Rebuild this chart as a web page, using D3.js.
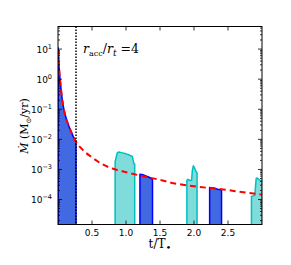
<!DOCTYPE html>
<html><head><meta charset="utf-8">
<script src="https://cdn.jsdelivr.net/npm/d3@7"></script>
<style>body{margin:0;background:#fff}svg{display:block}</style>
</head><body>
<svg id="c" width="291" height="265"></svg>
<script>
// ---- data ----
const xTicks = [0.5, 1.0, 1.5, 2.0, 2.5];
const xTickLabels = ["0.5", "1.0", "1.5", "2.0", "2.5"];
const yTickExps = [-4, -3, -2, -1, 0, 1];

// red dashed reference curve
const fitT = [0.005, 0.01, 0.02, 0.03, 0.05, 0.063, 0.09, 0.127, 0.17, 0.225, 0.265, 0.35, 0.5, 0.65, 0.8, 1.0, 1.2, 1.5, 1.7, 2.0, 2.4, 2.7, 3.0];
const fitMdot = [9.5, 3.98, 1.78, 1.0, 0.355, 0.204, 0.089, 0.0437, 0.024, 0.0123, 0.0083, 0.0048, 0.0025, 0.0015, 0.00107, 8.1e-4, 6.3e-4, 4.5e-4, 3.5e-4, 2.75e-4, 2.2e-4, 1.78e-4, 1.45e-4];

// blue episodes
const blue1T = [0.002, 0.005, 0.01, 0.02, 0.03, 0.05, 0.063, 0.09, 0.127, 0.17, 0.225, 0.265];
const blue1Mdot = [11, 9.5, 3.98, 1.78, 1.0, 0.355, 0.204, 0.089, 0.0437, 0.024, 0.0123, 0.0083];
const blue2T = [1.205, 1.23, 1.26, 1.3, 1.34, 1.37, 1.39];
const blue2Mdot = [6.9e-4, 6.8e-4, 6.5e-4, 6.0e-4, 5.5e-4, 5.0e-4, 4.7e-4];
const blue3T = [2.23, 2.26, 2.3, 2.35, 2.39, 2.405];
const blue3Mdot = [2.5e-4, 2.45e-4, 2.35e-4, 2.2e-4, 2.1e-4, 2.05e-4];

// cyan episodes
const cyan1T = [0.84, 0.855, 0.87, 0.89, 0.95, 1.0, 1.05, 1.09, 1.10, 1.115, 1.128];
const cyan1Mdot = [1.8e-3, 2.5e-3, 3.5e-3, 3.8e-3, 3.55e-3, 3.3e-3, 3.0e-3, 2.75e-3, 2.3e-3, 1.6e-3, 1.5e-3];
const cyan2T = [1.895, 1.91, 1.94, 1.965, 1.975, 1.99, 2.005, 2.025, 2.045];
const cyan2Mdot = [4.2e-4, 4.7e-4, 4.3e-4, 4.4e-4, 8.9e-4, 1.32e-3, 1.17e-3, 8.9e-4, 7.6e-4];
const cyan3T = [2.845, 2.87, 2.895, 2.905, 2.915, 2.93, 2.95, 2.97, 3.0];
const cyan3Mdot = [1.26e-4, 1.32e-4, 1.38e-4, 2.8e-4, 5.1e-4, 5.2e-4, 4.7e-4, 4.3e-4, 4.3e-4];

const tTrunc = 0.265;

// ---- layout ----
const svg = d3.select("#c");
const L = 58, R = 262, T = 26.5, B = 224.5;
const x = d3.scaleLinear().domain([0, 3]).range([L, R]);
const y = d3.scaleLog().domain([Math.pow(10, -4.83), Math.pow(10, 1.75)]).range([B, T]);

svg.append("defs").append("clipPath").attr("id", "pc")
  .append("rect").attr("x", L).attr("y", T).attr("width", R - L).attr("height", B - T);
const g = svg.append("g").attr("clip-path", "url(#pc)");

const area = d3.area().x(d => x(d[0])).y0(B + 2).y1(d => y(d[1]));
function episode(ts, vs, fill, stroke) {
  const pts = ts.map((t, i) => [t, vs[i]]);
  g.append("path").attr("d", area(pts)).attr("fill", fill)
    .attr("stroke", stroke).attr("stroke-width", 1.5).attr("stroke-linejoin", "round");
}
episode(blue1T, blue1Mdot, "#4169E1", "#0000FF");
episode(blue2T, blue2Mdot, "#4169E1", "#0000FF");
episode(blue3T, blue3Mdot, "#4169E1", "#0000FF");
episode(cyan1T, cyan1Mdot, "#80DCDA", "#00BFBF");
episode(cyan2T, cyan2Mdot, "#80DCDA", "#00BFBF");
episode(cyan3T, cyan3Mdot, "#80DCDA", "#00BFBF");

// red dashed curve
const line = d3.line().x(d => x(d[0])).y(d => y(d[1])).curve(d3.curveMonotoneX);
g.append("path").attr("d", line(fitT.map((t, i) => [t, fitMdot[i]])))
  .attr("fill", "none").attr("stroke", "#FF0000").attr("stroke-width", 2)
  .attr("stroke-dasharray", "6,4");

// dotted truncation line
g.append("line").attr("x1", x(tTrunc)).attr("x2", x(tTrunc)).attr("y1", T).attr("y2", B)
  .attr("stroke", "#000").attr("stroke-width", 1.5).attr("stroke-dasharray", "1.5,1.5");

// ---- axes ----
const ax = svg.append("g").attr("stroke", "#000").attr("stroke-width", 0.8);
xTicks.forEach(v => {
  ax.append("line").attr("x1", x(v)).attr("x2", x(v)).attr("y1", B).attr("y2", B - 4);
  ax.append("line").attr("x1", x(v)).attr("x2", x(v)).attr("y1", T).attr("y2", T + 4);
});
const yMin = -5, yMax = 2;
for (let e = yMin; e < yMax; e++) {
  for (let k = 1; k <= 9; k++) {
    const v = k * Math.pow(10, e);
    const yy = y(v);
    if (yy < T - 0.1 || yy > B + 0.1) continue;
    const len = k === 1 ? 4 : 2;
    ax.append("line").attr("x1", L).attr("x2", L + len).attr("y1", yy).attr("y2", yy);
    ax.append("line").attr("x1", R).attr("x2", R - len).attr("y1", yy).attr("y2", yy);
  }
}
svg.append("rect").attr("x", L).attr("y", T).attr("width", R - L).attr("height", B - T)
  .attr("fill", "none").attr("stroke", "#000").attr("stroke-width", 1);

// x tick labels
xTicks.forEach((v, i) => {
  svg.append("text").attr("x", x(v)).attr("y", 235.5).attr("text-anchor", "middle")
    .attr("font-family", "DejaVu Sans").attr("font-size", 9).attr("fill", "#000")
    .text(xTickLabels[i]);
});
// y tick labels
yTickExps.forEach(e => {
  const t = svg.append("text").attr("x", 52).attr("y", y(Math.pow(10, e)) + 3.5)
    .attr("text-anchor", "end").attr("font-family", "DejaVu Sans").attr("fill", "#000");
  t.append("tspan").attr("font-size", 9).text("10");
  t.append("tspan").attr("font-size", 6.5).attr("dy", -4).text(e < 0 ? "\u2212" + (-e) : String(e));
});

// x label
const xl = svg.append("text").attr("x", 160).attr("y", 248).attr("text-anchor", "middle")
  .attr("font-family", "DejaVu Serif").attr("font-size", 12).attr("fill", "#000");
xl.append("tspan").text("t/T");
xl.append("tspan").attr("dy", 3).attr("font-size", 10).text("\u2022");

// y label
const yl = svg.append("text").attr("transform", "translate(28,126) rotate(-90)")
  .attr("text-anchor", "middle").attr("font-family", "DejaVu Serif").attr("font-size", 11).attr("fill", "#000");
yl.append("tspan").attr("font-style", "italic").text("M\u0307");
yl.append("tspan").text(" (M");
yl.append("tspan").attr("font-size", 7).attr("dy", 2.5).text("\u2299");
yl.append("tspan").attr("dy", -2.5).text("/yr)");

// annotation
const an = svg.append("text").attr("x", 83).attr("y", 53).attr("font-family", "DejaVu Serif")
  .attr("font-size", 12.5).attr("fill", "#000");
an.append("tspan").attr("font-style", "italic").text("r");
an.append("tspan").attr("font-size", 8).attr("dy", 2.5).text("acc");
an.append("tspan").attr("dy", -2.5).text("/");
an.append("tspan").attr("font-style", "italic").text("r");
an.append("tspan").attr("font-size", 9).attr("font-style", "italic").attr("dy", 2.5).text("t");
an.append("tspan").attr("dy", -2.5).text(" =4");
</script>
</body></html>
